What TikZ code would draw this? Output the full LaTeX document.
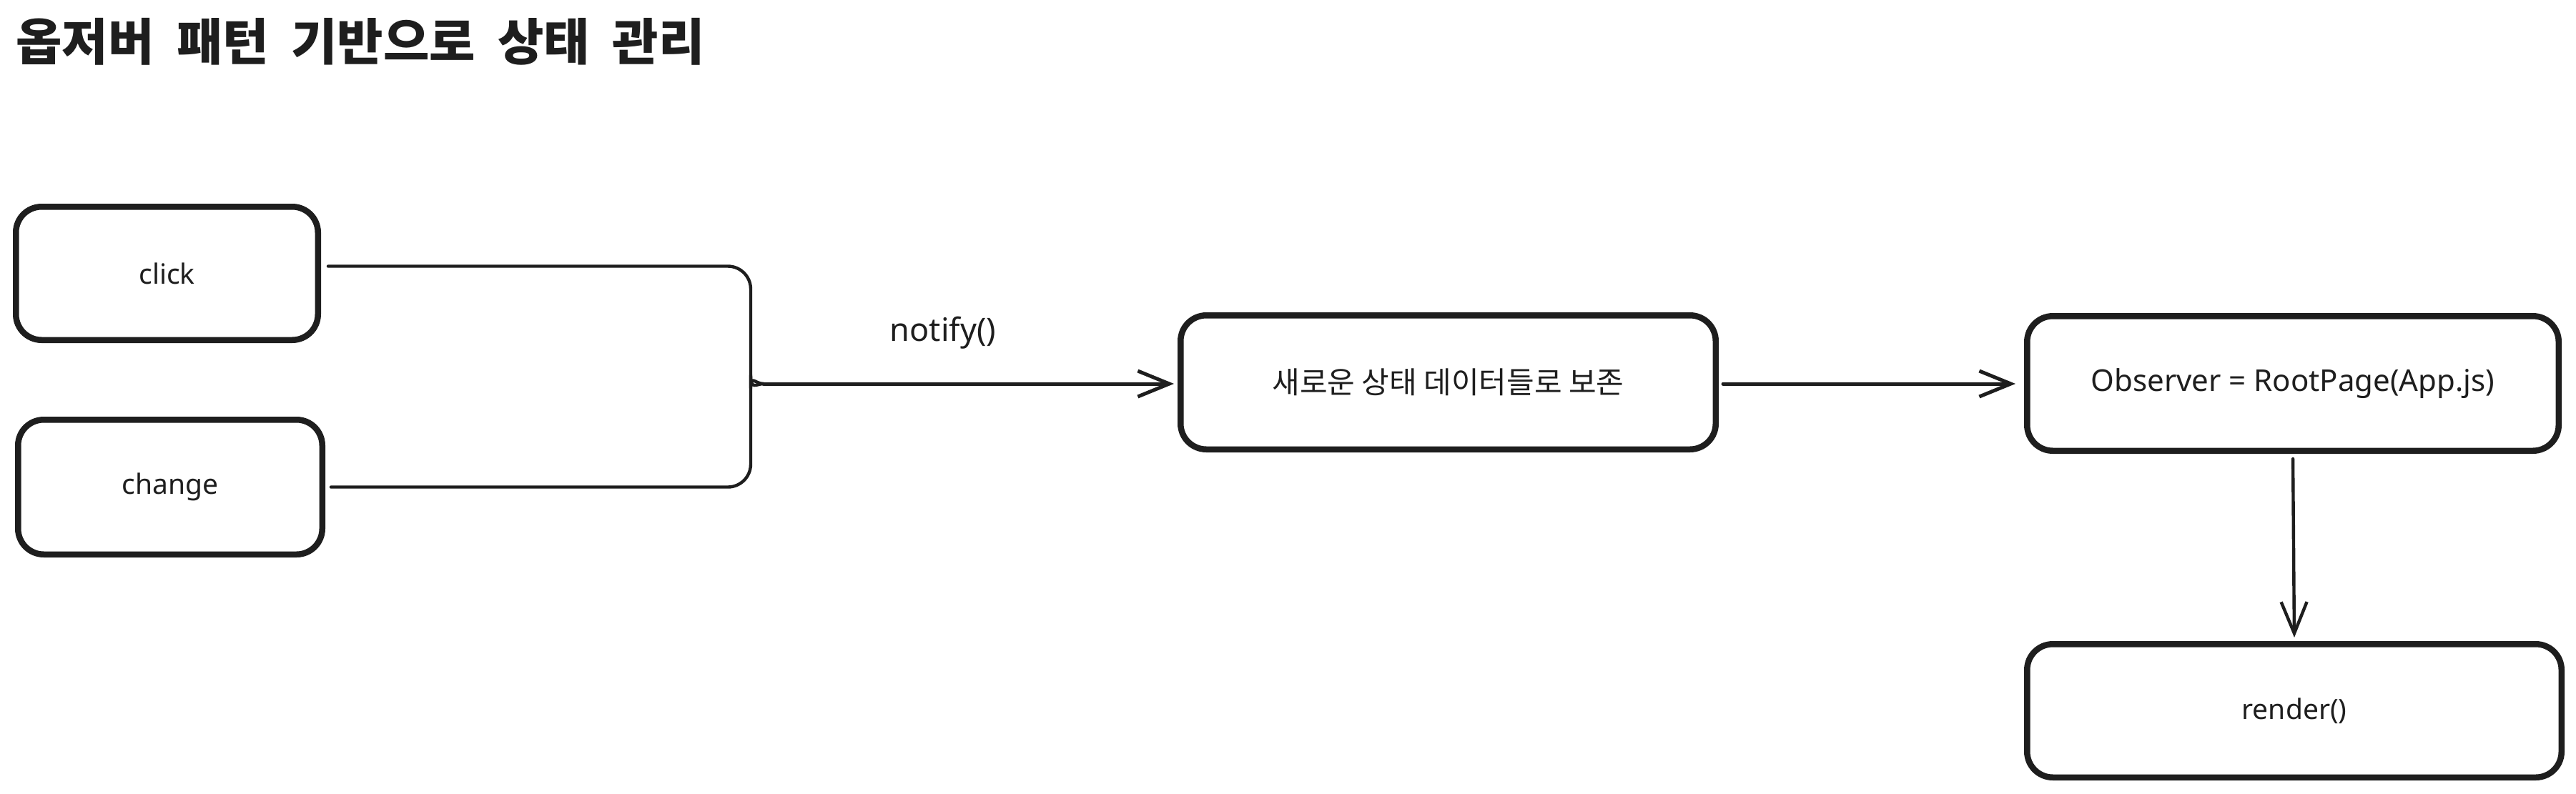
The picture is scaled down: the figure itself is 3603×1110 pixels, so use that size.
\documentclass[tikz,border=0pt]{standalone}
\usepackage{fontspec}
\setmainfont{Noto Sans}
\newfontfamily\kr{Noto Sans CJK KR}
\usetikzlibrary{arrows.meta}
\definecolor{ink}{HTML}{1E1E1E}
\begin{document}
\begin{tikzpicture}[x=0.5pt,y=-0.5pt,
  box/.style={draw=ink, line width=4.25pt, rounded corners=18pt, inner sep=0pt, align=center,
    font=\fontsize{19.5}{23}\selectfont, text=ink, fill=white},
  conn/.style={draw=ink, line width=2.2pt, line cap=round, line join=round},
  arr/.style={conn, -{Straight Barb[length=22pt, width=18pt]}},
  lbl/.style={font=\fontsize{22.5}{26}\selectfont, text=ink, inner sep=0pt},
]
\useasboundingbox[fill=white] (0,0) rectangle (3603,1110);

\node[anchor=west, font=\kr\bfseries\fontsize{35}{40}\selectfont, text=ink, inner sep=0pt] (title) at (22,58) {옵저버\hspace{0.45em}패턴\hspace{0.45em}기반으로\hspace{0.45em}상태\hspace{0.45em}관리};

\node[box, minimum width=211.25pt, minimum height=93.25pt] (click) at (233.5,382.5) {click};
\node[box, minimum width=212.75pt, minimum height=94.25pt] (change) at (238,681.5) {change};
\node[box, minimum width=374.25pt, minimum height=93.75pt, font=\kr\fontsize{21}{25}\selectfont] (mid) at (2025.5,535) {새로운 상태 데이터들로 보존};
\node[box, minimum width=371.75pt, minimum height=94.25pt, font=\fontsize{21}{25}\selectfont] (obs) at (3207,536.5) {Observer = RootPage(App.js)};
\node[box, minimum width=373.75pt, minimum height=93.25pt] (render) at (3209,994.5) {render()};

\coordinate (j) at (1068,537);

\draw[conn, rounded corners=16pt, shorten <=5pt] ([yshift=5pt]click.east) -| ([xshift=-9pt,yshift=13pt]j) [sharp corners] to[out=-90,in=180] (j);
\draw[conn, rounded corners=16pt, shorten <=4pt] (change.east) -| ([xshift=-9pt,yshift=-10pt]j) [sharp corners] to[out=90,in=180] (j);

\draw[arr, line width=2.5pt, shorten >=2.5pt] (j) -- (j -| mid.west);
\node[lbl] (notify) at (1319,466) {notify()};

\draw[arr, line width=2.5pt, shorten <=3pt, shorten >=6pt] (mid.east |- j) -- (obs.west |- j);
\draw[arr, shorten <=3.5pt, shorten >=2.5pt] (obs.south) -- (render.north);
\end{tikzpicture}
\end{document}
